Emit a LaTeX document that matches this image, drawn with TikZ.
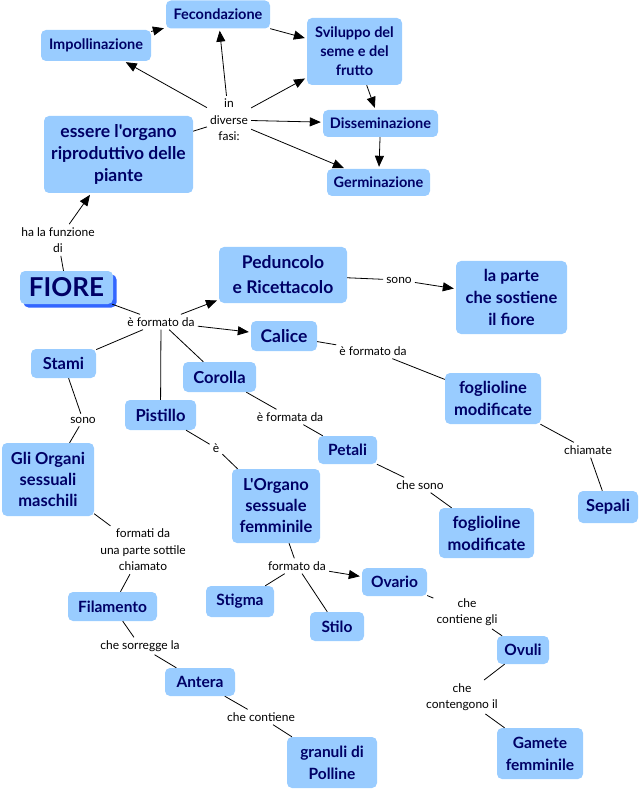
\documentclass[tikz,border=0pt]{standalone}
\usepackage{fontspec}
\setmainfont{Lato}[Ligatures=TeXOff]
\usetikzlibrary{arrows.meta,shadows}
\definecolor{cfill}{HTML}{99CCFF}
\definecolor{ctext}{HTML}{000066}
\definecolor{cshadow}{HTML}{3366FF}
\tikzset{
  concept/.style={rounded corners=5pt, fill=cfill, draw=none, text=ctext, align=center, inner sep=2pt},
  linklab/.style={align=center, inner sep=3pt, font=\fontsize{12}{16.5}\selectfont},
  conn/.style={draw=black, line width=0.8pt},
  arr/.style={conn, -{Triangle[length=11pt,width=9pt]}, shorten >=2pt},
}
\newcommand{\cf}[2]{\fontsize{#1}{#2}\selectfont\bfseries}
\begin{document}
\begin{tikzpicture}[x=1pt,y=-1pt]
\useasboundingbox (0,0) rectangle (642,791);
% concepts
\node[concept, minimum width=110, minimum height=31, font=\cf{14.5}{19}] (impoll) at (96,45.5) {Impollinazione};
\node[concept, minimum width=104, minimum height=28, font=\cf{14.5}{19}] (fecond) at (218,14.5) {Fecondazione};
\node[concept, minimum width=95, minimum height=67, font=\cf{14.5}{19}] (svil) at (354.5,51.5) {Sviluppo del\\seme e del\\frutto};
\node[concept, minimum width=115, minimum height=27, font=\cf{14.5}{19}] (dissem) at (380.5,123.5) {Disseminazione};
\node[concept, minimum width=103, minimum height=27, font=\cf{14.5}{19}] (germin) at (378.5,182.5) {Germinazione};
\node[concept, minimum width=149, minimum height=77, font=\cf{17.5}{22}] (essere) at (118.5,154.5) {essere l'organo\\riproduttivo delle\\piante};
\node[concept, minimum width=93, minimum height=33, font=\cf{26}{28},
  drop shadow={shadow xshift=3.5pt, shadow yshift=-3.5pt, fill=cshadow, opacity=1}] (fiore) at (66.5,287.5) {FIORE};
\node[concept, minimum width=128, minimum height=56, font=\cf{17.5}{25}] (pedunc) at (283,275) {Peduncolo\\e Ricettacolo};
\node[concept, minimum width=111, minimum height=73, font=\cf{16.5}{22}] (parte) at (511.5,297.5) {la parte\\che sostiene\\il fiore};
\node[concept, minimum width=66, minimum height=30, font=\cf{17.5}{22}] (calice) at (284,336) {Calice};
\node[concept, minimum width=96, minimum height=51, font=\cf{16.5}{22}] (fogla) at (493,398.5) {foglioline\\modificate};
\node[concept, minimum width=65, minimum height=29, font=\cf{16.5}{22}] (stami) at (63.5,363.5) {Stami};
\node[concept, minimum width=73, minimum height=30, font=\cf{16.5}{22}] (corolla) at (219.5,377) {Corolla};
\node[concept, minimum width=71, minimum height=30, font=\cf{16.5}{22}] (pistillo) at (160.5,415) {Pistillo};
\node[concept, minimum width=59, minimum height=28, font=\cf{15.5}{22}] (petali) at (347.5,450) {Petali};
\node[concept, minimum width=92, minimum height=73, font=\cf{16.5}{21}] (organim) at (48,479.5) {Gli Organi\\sessuali\\maschili};
\node[concept, minimum width=88, minimum height=74, font=\cf{16.5}{21}] (organof) at (276,506) {L'Organo\\sessuale\\femminile};
\node[concept, minimum width=95, minimum height=50, font=\cf{16.5}{22}] (foglb) at (486.5,533) {foglioline\\modificate};
\node[concept, minimum width=60, minimum height=32, font=\cf{16.5}{22}] (sepali) at (608,507) {Sepali};
\node[concept, minimum width=68, minimum height=31, font=\cf{15.5}{22}] (stigma) at (240,601.5) {Stigma};
\node[concept, minimum width=54, minimum height=29, font=\cf{15.5}{22}] (stilo) at (337,626.5) {Stilo};
\node[concept, minimum width=65, minimum height=28, font=\cf{15.5}{22}] (ovario) at (394.5,582) {Ovario};
\node[concept, minimum width=52, minimum height=28, font=\cf{15.5}{22}] (ovuli) at (523,650) {Ovuli};
\node[concept, minimum width=89, minimum height=29, font=\cf{15.5}{22}] (filam) at (112.5,606.5) {Filamento};
\node[concept, minimum width=70, minimum height=28, font=\cf{15.5}{22}] (antera) at (200,682) {Antera};
\node[concept, minimum width=90, minimum height=51, font=\cf{15.5}{22}] (granuli) at (332,762.5) {granuli di\\Polline};
\node[concept, minimum width=86, minimum height=51, font=\cf{15.5}{22}] (gamete) at (540,753.5) {Gamete\\femminile};
% link labels
\node[linklab] (fasi) at (229,120) {in\\diverse\\fasi:};
\node[linklab] (funz) at (58,240) {ha la funzione\\di};
\node[linklab] (formatoa) at (161,322) {è formato da};
\node[linklab] (sonoa) at (399,280) {sono};
\node[linklab] (formatob) at (373,351) {è formato da};
\node[linklab] (chiamate) at (588,450) {chiamate};
\node[linklab] (sonob) at (83,420) {sono};
\node[linklab] (formata) at (290,417) {è formata da};
\node[linklab] (elab) at (216,448) {è};
\node[linklab] (chesono) at (420,485) {che sono};
\node[linklab] (formati) at (143,550) {formati da\\una parte sottile\\chiamato};
\node[linklab] (formatoc) at (297,566) {formato da};
\node[linklab] (contiene) at (467,612) {che\\contiene gli};
\node[linklab] (sorregge) at (140,646) {che sorregge la};
\node[linklab] (contengono) at (462,697) {che\\contengono il};
\node[linklab] (checont) at (261,717) {che contiene};
% connectors
\draw[conn] (essere) -- (fasi);
\draw[arr] (fasi) -- (impoll);
\draw[arr] (fasi) -- (fecond);
\draw[arr] (fasi) -- (svil);
\draw[arr] (fasi) -- (dissem);
\draw[arr] (fasi) -- (germin);
\draw[arr] (impoll) -- (fecond);
\draw[arr] (fecond) -- (svil);
\draw[arr] (svil) -- (dissem);
\draw[arr] (dissem) -- (germin);
\draw[conn] (fiore) -- (funz);
\draw[arr] (funz) -- (essere);
\draw[conn] (fiore) -- (formatoa);
\draw[arr] (formatoa) -- (pedunc);
\draw[arr] (formatoa) -- (calice);
\draw[conn] (formatoa) -- (stami);
\draw[conn] (formatoa) -- (corolla);
\draw[conn] (formatoa) -- (pistillo);
\draw[conn] (pedunc) -- (sonoa);
\draw[arr] (sonoa) -- (parte);
\draw[conn] (calice) -- (formatob);
\draw[conn] (formatob) -- (fogla);
\draw[conn] (fogla) -- (chiamate);
\draw[conn] (chiamate) -- (sepali);
\draw[conn] (stami) -- (sonob);
\draw[conn] (sonob) -- (organim);
\draw[conn] (corolla) -- (formata);
\draw[conn] (formata) -- (petali);
\draw[conn] (pistillo) -- (elab);
\draw[conn] (elab) -- (organof);
\draw[conn] (petali) -- (chesono);
\draw[conn] (chesono) -- (foglb);
\draw[conn] (organim) -- (formati);
\draw[conn] (formati) -- (filam);
\draw[conn] (organof) -- (formatoc);
\draw[conn] (formatoc) -- (stigma);
\draw[conn] (formatoc) -- (stilo);
\draw[arr] (formatoc) -- (ovario);
\draw[conn] (ovario) -- (contiene);
\draw[conn] (contiene) -- (ovuli);
\draw[conn] (filam) -- (sorregge);
\draw[conn] (sorregge) -- (antera);
\draw[conn] (ovuli) -- (contengono);
\draw[conn] (contengono) -- (gamete);
\draw[conn] (antera) -- (checont);
\draw[conn] (checont) -- (granuli);
\end{tikzpicture}
\end{document}
